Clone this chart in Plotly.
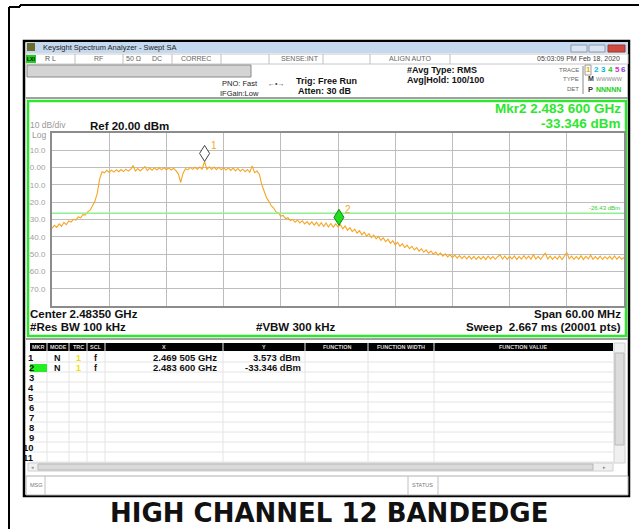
import numpy as np
import plotly.graph_objects as go

W, H = 639, 529


def X(px):
    return px / W


def Y(py):
    return 1 - py / H


# ---------------- data ----------------
center_ghz = 2.48350
span_mhz = 60.0
ref_dbm = 20.0
bottom_dbm = -80.0
x_divisions = 10
display_line_dbm = -26.43

trace_dbm = [
    -35.2, -33.4, -34.6, -32.5, -33.9, -31.6, -33.0, -30.8, -31.5, -29.9,
    -30.4, -28.5, -29.0, -27.2, -27.4, -25.6, -24.6, -22.3, -19.5, -14.8,
    -6.5, -2.4, -3.0, -1.6, -2.8, -1.5, -2.6, -1.2, -2.4, -1.1,
    -2.3, -0.9, -2.0, -1.0, 1.2, -2.0, -0.6, -1.9, -0.5, 0.6,
    -1.7, -0.3, -1.5, -0.2, -1.4, -0.1, -1.3, 0.0, -1.2, -0.2,
    -1.4, -0.4, -1.8, -3.6, -8.6, -3.2, -0.6, -1.2, 0.1, -1.0,
    0.2, -0.9, 0.3, -1.0, 3.6, -1.0, 0.4, -1.1, 0.3, -1.2,
    0.1, -1.3, 0.0, -1.4, -0.2, -1.6, -0.3, -1.9, -0.5, -2.1,
    -0.9, -2.4, -1.1, -2.7, 1.0, -2.9, -2.0, -3.8, -9.8, -13.9,
    -17.4, -19.5, -22.0, -23.4, -25.6, -26.2, -28.0, -27.6, -29.5, -29.0,
    -30.6, -29.9, -31.6, -30.4, -32.0, -30.7, -32.6, -31.2, -33.0, -31.4,
    -33.2, -31.6, -33.8, -31.9, -34.1, -32.0, -34.3, -32.3, -34.5, -32.6,
    -34.3, -33.0, -35.4, -33.8, -36.2, -34.7, -37.0, -35.6, -37.9, -36.5,
    -38.8, -37.3, -39.6, -38.2, -40.5, -39.0, -41.2, -39.8, -42.1, -40.6,
    -42.8, -41.4, -43.8, -42.3, -44.6, -43.2, -45.5, -44.0, -46.2, -44.8,
    -46.9, -45.5, -47.6, -46.2, -48.3, -46.9, -48.9, -47.6, -49.5, -48.2,
    -50.0, -48.8, -50.6, -49.4, -51.2, -49.9, -51.6, -50.3, -52.0, -50.6,
    -52.3, -50.9, -52.6, -51.1, -52.8, -51.2, -52.9, -51.3, -53.0, -51.4,
    -52.9, -51.3, -53.1, -51.2, -52.8, -51.4, -53.0, -51.5, -50.4, -52.9,
    -51.2, -53.0, -51.3, -52.8, -51.1, -53.1, -51.4, -52.9, -50.9, -52.8,
    -51.2, -53.0, -50.2, -52.9, -51.3, -53.1, -51.5, -49.4, -52.8, -51.2,
    -53.0, -51.4, -52.9, -51.1, -53.1, -51.3, -49.1, -52.7, -51.2, -53.0,
    -51.4, -52.9, -51.0, -53.1, -51.3, -52.8, -50.6, -53.0, -51.4, -52.9,
    -51.2, -53.1, -51.5, -52.8, -51.3, -53.0, -51.1, -52.9, -51.4, -53.0,
    -52.0,
]

ytick_vals = [10, 0, -10, -20, -30, -40, -50, -60, -70]
ytick_text = ["10.0", "0.00", "-10.0", "-20.0", "-30.0", "-40.0", "-50.0", "-60.0", "-70.0"]

marker_ids = [1, 2]
marker_mode = ["N", "N"]
marker_trc = ["1", "1"]
marker_scl = ["f", "f"]
marker_freq_ghz = [2.469505, 2.483600]
marker_dbm = [3.573, -33.346]
active_marker = 2
table_rows = 11

table_columns = ["MKR", "MODE", "TRC", "SCL", "X", "Y", "FUNCTION", "FUNCTION WIDTH", "FUNCTION VALUE"]

start_ghz = center_ghz - span_mhz / 2000
stop_ghz = center_ghz + span_mhz / 2000
freq_ghz = np.linspace(start_ghz, stop_ghz, len(trace_dbm))

FONT = "Liberation Sans"
GREEN = "#2ee62e"
ORANGE = "#f5a623"

fig = go.Figure()

fig.add_trace(go.Scatter(
    x=freq_ghz, y=trace_dbm, mode="lines",
    line=dict(color=ORANGE, width=1.1), hoverinfo="skip", showlegend=False,
))

shapes = []
ann = []


def rect(x0, y0, x1, y1, fill="rgba(0,0,0,0)", line="rgba(0,0,0,0)", lw=1, layer="below"):
    shapes.append(dict(type="rect", xref="paper", yref="paper",
                       x0=X(x0), x1=X(x1), y0=Y(y1), y1=Y(y0),
                       fillcolor=fill, line=dict(color=line, width=lw), layer=layer))


def hline(x0, x1, y, color, lw=1, layer="below"):
    shapes.append(dict(type="line", xref="paper", yref="paper",
                       x0=X(x0), x1=X(x1), y0=Y(y), y1=Y(y),
                       line=dict(color=color, width=lw), layer=layer))


def vline(x, y0, y1, color, lw=1, layer="below"):
    shapes.append(dict(type="line", xref="paper", yref="paper",
                       x0=X(x), x1=X(x), y0=Y(y0), y1=Y(y1),
                       line=dict(color=color, width=lw), layer=layer))


def text(x, y, s, size=8, color="#111", bold=False, anchor="left", family=FONT):
    ann.append(dict(xref="paper", yref="paper", x=X(x), y=Y(y), text=(f"<b>{s}</b>" if bold else s),
                    showarrow=False, xanchor=anchor, yanchor="middle",
                    font=dict(size=size, color=color, family=family)))


# ---- outer document frame ----
hline(20, 639, 5, "#000", 2)
hline(9, 20, 7, "#000", 2)
vline(20, 5, 7, "#000", 2)
vline(9, 7, 529, "#000", 2)

# ---- analyzer window ----
rect(24, 41, 629, 496, fill="#ffffff", line="#000000", lw=2.5)
rect(26, 42, 628, 53, fill="#c4d8ef")
text(41, 47.5, "Keysight Spectrum Analyzer - Swept SA", 7.5, "#222")
rect(27, 43, 35, 51, fill="#6b6b2a")
rect(571, 45, 587, 52, fill="#dbe5f1", line="#8d9db5")
rect(589, 45, 605, 52, fill="#dbe5f1", line="#8d9db5")
rect(608, 45, 625, 52, fill="#d0493f", line="#9a3a33")

# row 2
rect(26, 54, 628, 64, fill="#ffffff", line="#c8c8c8")
rect(26, 55, 36, 63, fill="#22cc22")
text(31, 59, "LXI", 5, "#000", True, "center")
for sx in [75, 123, 172, 221, 269, 323, 370, 450]:
    vline(sx, 54, 64, "#c0c0c0")
text(43, 59, "R L", 7, "#555")
text(99, 59, "RF", 7, "#666", anchor="center")
text(133, 59, "50 Ω", 7, "#666", anchor="center")
text(157, 59, "DC", 7, "#666", anchor="center")
text(196, 59, "CORREC", 7, "#666", anchor="center")
text(300, 59, "SENSE:INT", 7, "#666", anchor="center")
text(410, 59, "ALIGN AUTO", 7, "#666", anchor="center")
text(622, 59, "05:03:09 PM Feb 18, 2020", 7, "#444", anchor="right")

# row 3
rect(27, 65, 251, 77, fill="#d4d4d4", line="#8a8a8a")
text(220, 84, "PNO: Fast", 7.5, "#222")
text(218, 93, "IFGain:Low", 7.5, "#222")
text(276, 84, "←•→", 7, "#444", anchor="center")
text(294, 81, "Trig: Free Run", 9, "#111", True)
text(296, 91, "Atten: 30 dB", 9, "#111", True)
text(405, 70, "#Avg Type: RMS", 9, "#111", True)
text(405, 80, "Avg|Hold: 100/100", 9, "#111", True)
text(581, 70, "TRACE", 6, "#666", anchor="right")
text(581, 79, "TYPE", 6, "#666", anchor="right")
text(581, 89, "DET", 6, "#666", anchor="right")
vline(583, 66, 94, "#888")
rect(585, 65, 591, 75, line="#999")
for tx, tc, tn in [(588, "#e0b000", "1"), (596, "#00c0e8", "2"), (603, "#00b8c8", "3"),
                   (610, "#22cc22", "4"), (617, "#e030c0", "5"), (623, "#8040e0", "6")]:
    text(tx, 70, tn, 8, tc, True, "center")
text(586, 79, "M", 7, "#333", True)
text(594, 79, "WWWWW", 5.5, "#888")
text(586, 89, "P", 7.5, "#333", True)
text(594, 89, "NNNNN", 7, "#22cc22", True)

hline(26, 628, 98, "#a0a0a0", 2)

# ---- green measurement frame ----
rect(28, 101, 626, 336, line=GREEN, lw=2.5)
text(28, 125.5, "10 dB/div", 8.5, "#999")
text(30, 134.5, "Log", 8.5, "#999")
text(88, 126, "Ref 20.00 dBm", 11.5, "#111", True)
text(623, 109, "Mkr2 2.483 600 GHz", 13.5, GREEN, True, "right")
text(623, 123.5, "-33.346 dBm", 13.5, GREEN, True, "right")
text(28, 314, "Center 2.48350 GHz", 11.5, "#111", True)
text(28, 327, "#Res BW 100 kHz", 11.5, "#111", True)
text(296, 327, "#VBW 300 kHz", 11.5, "#111", True, "center")
text(623, 314, "Span 60.00 MHz", 11.5, "#111", True, "right")
text(623, 327, "Sweep  2.667 ms (20001 pts)", 11.5, "#111", True, "right")

# display line
shapes.append(dict(type="line", xref="x", yref="y", x0=start_ghz, x1=stop_ghz,
                   y0=display_line_dbm, y1=display_line_dbm,
                   line=dict(color="#8ef08e", width=1.5), layer="above"))
ann.append(dict(xref="paper", yref="y", x=X(622), y=display_line_dbm, yshift=5,
                text=f"{display_line_dbm:.2f} dBm", showarrow=False, xanchor="right",
                yanchor="middle", font=dict(size=6, color="#33cc33", family=FONT)))

# markers
for mid, mf, md in zip(marker_ids, marker_freq_ghz, marker_dbm):
    active = mid == active_marker
    shapes.append(dict(type="path", xref="x", yref="y", xsizemode="pixel", ysizemode="pixel",
                       xanchor=mf, yanchor=md, path="M 0 0 L 5 8 L 0 16 L -5 8 Z",
                       fillcolor=("#22dd22" if active else "#ffffff"),
                       line=dict(color=("#118811" if active else "#444444"), width=1),
                       layer="above"))
    ann.append(dict(xref="x", yref="y", x=mf, y=md, xshift=9, yshift=16, text=str(mid),
                    showarrow=False, font=dict(size=10, color=ORANGE, family=FONT)))

# ---- marker table ----
hline(26, 628, 339, "#a0a0a0", 2)
rect(30, 343, 613, 351, fill="#000000")
col_edges = [30, 47, 69, 87, 105, 223, 305, 368, 434, 613]
for i in range(table_rows):
    hline(30, 613, 352 + 10 * (i + 1), "#e4e4e4")
for cx in col_edges[1:-1]:
    vline(cx, 343, 462, "#e4e4e4")
    vline(cx, 343, 351, "#777777", 1.5)
for name, c0, c1 in zip(table_columns, col_edges[:-1], col_edges[1:]):
    text((c0 + c1) / 2, 347, name, 5.5, "#dddddd", True, "center")

rect(30, 364, 47, 372, fill="#22ee22")
for i in range(table_rows):
    text(36, 357.7 + 10 * i, str(i + 1), 9.5, "#111", True, "right")
for k, (mid, mm, mt, ms, mf, md) in enumerate(zip(marker_ids, marker_mode, marker_trc, marker_scl,
                                                  marker_freq_ghz, marker_dbm)):
    yy = 357.7 + 10 * (mid - 1)
    fs = f"{mf:.6f}"
    text(57, yy, mm, 9, "#111", True, "center")
    text(78, yy, mt, 9, "#f0e000", True, "center")
    text(96, yy, ms, 9, "#111", True, "center")
    text(219, yy, f"{fs[:5]} {fs[5:]} GHz", 9.5, "#111", True, "right")
    text(303, yy, f"{md:.3f} dBm", 9.5, "#111", True, "right")

# scrollbars
rect(614, 343, 625, 463, fill="#f0f0f0", line="#d0d0d0")
rect(615, 353, 624, 445, fill="#dcdcdc", line="#b8b8b8")
rect(28, 463, 613, 471, fill="#f0f0f0", line="#d0d0d0")
rect(38, 464, 593, 470, fill="#dadada", line="#b8b8b8")
text(32, 467, "◂", 5, "#888", anchor="center")
text(604, 467, "▸", 5, "#888", anchor="center")

# msg / status bar
rect(26, 476, 628, 495, fill="#ffffff", line="#b0b0b0")
vline(45, 476, 495, "#c0c0c0")
vline(408, 476, 495, "#c0c0c0")
vline(438, 476, 495, "#c0c0c0")
text(28, 485, "MSG", 5.5, "#777")
text(410, 485, "STATUS", 5.5, "#777")

# caption
text(329, 513, "HIGH CHANNEL 12 BANDEDGE", 26, "#111", True, "center", "DejaVu Sans")

fig.update_layout(
    width=W, height=H,
    margin=dict(l=0, r=0, t=0, b=0),
    paper_bgcolor="#ffffff", plot_bgcolor="#ffffff",
    showlegend=False, hovermode=False,
    shapes=shapes, annotations=ann,
    xaxis=dict(domain=[X(52), X(624)], range=[start_ghz, stop_ghz],
               tick0=start_ghz, dtick=span_mhz / x_divisions / 1000,
               showticklabels=False, ticks="", showgrid=True, gridcolor="#bdbdbd", gridwidth=1,
               showline=True, linecolor="#8c8c8c", linewidth=2, mirror=True, zeroline=False,
               fixedrange=True),
    yaxis=dict(domain=[Y(306), Y(133)], range=[bottom_dbm, ref_dbm],
               tickvals=ytick_vals, ticktext=ytick_text, ticks="", ticklabelstandoff=3,
               tickfont=dict(size=8, color="#a0a0a0", family=FONT),
               showgrid=True, gridcolor="#bdbdbd", gridwidth=1,
               showline=True, linecolor="#8c8c8c", linewidth=2, mirror=True, zeroline=False,
               fixedrange=True),
)

fig.write_html(
    "out.html",
    config={"displayModeBar": False},
    post_script="document.body.style.margin='0';document.body.style.overflow='hidden';",
)
